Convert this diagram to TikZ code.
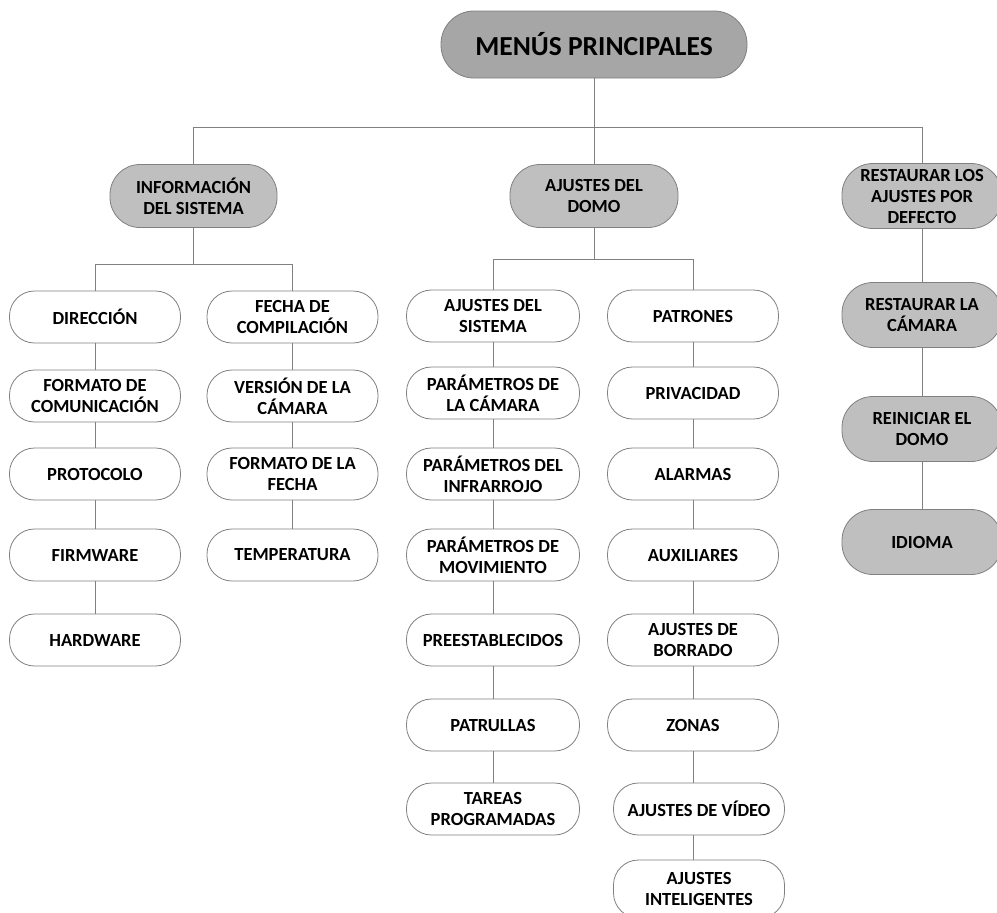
\documentclass[tikz,border=0pt]{standalone}
\usepackage{fontspec}
\setmainfont{Carlito}
\definecolor{lineg}{RGB}{128,128,128}
\definecolor{topfill}{RGB}{166,166,166}
\definecolor{midfill}{RGB}{191,191,191}
\tikzset{
  leaf/.style={draw=lineg, line width=0.8pt, fill=white, minimum width=171pt, minimum height=52pt,
    rounded corners=25pt, align=center, inner sep=0pt, text=black,
    font=\bfseries\fontsize{18.5}{21}\selectfont},
  midbox/.style={leaf, fill=midfill, minimum width=167pt, minimum height=63pt, rounded corners=30pt},
  restbox/.style={leaf, fill=midfill, minimum width=160pt, minimum height=65pt, rounded corners=31pt},
  topbox/.style={leaf, fill=topfill, minimum width=306pt, minimum height=67pt, rounded corners=33pt,
    font=\bfseries\fontsize{27.5}{32}\selectfont},
  conn/.style={draw=lineg, line width=0.8pt}
}
\begin{document}
\begin{tikzpicture}[x=1pt,y=-1pt]
\clip (0,0) rectangle (997,913);
\fill[white] (0,0) rectangle (997,913);
% top
\node[topbox] (top) at (594,44.5) {MENÚS PRINCIPALES};
% level 2
\node[midbox] (info) at (193.5,196) {INFORMACIÓN\\DEL SISTEMA};
\node[midbox, minimum width=168pt] (domo) at (594,196) {AJUSTES DEL\\DOMO};
\node[restbox] (rest) at (922,196) {RESTAURAR LOS\\AJUSTES POR\\DEFECTO};
% column 1
\node[leaf] (c1a) at (95,317) {DIRECCIÓN};
\node[leaf] (c1b) at (95,396) {FORMATO DE\\COMUNICACIÓN};
\node[leaf] (c1c) at (95,474) {PROTOCOLO};
\node[leaf] (c1d) at (95,555) {FIRMWARE};
\node[leaf] (c1e) at (95,640) {HARDWARE};
% column 2
\node[leaf] (c2a) at (292.5,317) {FECHA DE\\COMPILACIÓN};
\node[leaf] (c2b) at (292.5,396) {VERSIÓN DE LA\\CÁMARA};
\node[leaf] (c2c) at (292.5,474) {FORMATO DE LA\\FECHA};
\node[leaf] (c2d) at (292.5,555) {TEMPERATURA};
% column 3
\node[leaf, minimum width=173pt] (c3a) at (493,316) {AJUSTES DEL\\SISTEMA};
\node[leaf, minimum width=173pt] (c3b) at (493,393) {PARÁMETROS DE\\LA CÁMARA};
\node[leaf, minimum width=173pt] (c3c) at (493,474) {PARÁMETROS DEL\\INFRARROJO};
\node[leaf, minimum width=173pt] (c3d) at (493,555) {PARÁMETROS DE\\MOVIMIENTO};
\node[leaf, minimum width=173pt] (c3e) at (493,640) {PREESTABLECIDOS};
\node[leaf, minimum width=173pt] (c3f) at (493,725) {PATRULLAS};
\node[leaf, minimum width=173pt] (c3g) at (493,809) {TAREAS\\PROGRAMADAS};
% column 4
\node[leaf] (c4a) at (693,316) {PATRONES};
\node[leaf] (c4b) at (693,393) {PRIVACIDAD};
\node[leaf] (c4c) at (693,474) {ALARMAS};
\node[leaf] (c4d) at (693,555) {AUXILIARES};
\node[leaf] (c4e) at (693,640) {AJUSTES DE\\BORRADO};
\node[leaf] (c4f) at (693,725) {ZONAS};
\node[leaf] (c4g) at (699,809) {AJUSTES DE VÍDEO};
\node[leaf, minimum height=58pt] (c4h) at (699,889) {AJUSTES\\INTELIGENTES};
% column 5
\node[restbox] (c5a) at (922,315) {RESTAURAR LA\\CÁMARA};
\node[restbox] (c5b) at (922,429) {REINICIAR EL\\DOMO};
\node[restbox] (c5c) at (922,542) {IDIOMA};
% buses
\coordinate (bus0) at (594,127);
\coordinate (bus1) at (193.5,264);
\coordinate (bus2) at (594,259);
% connectors
\draw[conn] (top) -- (bus0);
\draw[conn] (info.north) -- (info.north |- bus0) -- (rest.north |- bus0) -- (rest.north);
\draw[conn] (bus0) -- (domo.north);
\draw[conn] (info.south) -- (bus1);
\draw[conn] (c1a.north) -- (c1a.north |- bus1) -- (c2a.north |- bus1) -- (c2a.north);
\draw[conn] (domo.south) -- (bus2);
\draw[conn] (c3a.north) -- (c3a.north |- bus2) -- (c4a.north |- bus2) -- (c4a.north);
\draw[conn] (c1a) -- (c1b); \draw[conn] (c1b) -- (c1c); \draw[conn] (c1c) -- (c1d); \draw[conn] (c1d) -- (c1e);
\draw[conn] (c2a) -- (c2b); \draw[conn] (c2b) -- (c2c); \draw[conn] (c2c) -- (c2d);
\draw[conn] (c3a) -- (c3b); \draw[conn] (c3b) -- (c3c); \draw[conn] (c3c) -- (c3d); \draw[conn] (c3d) -- (c3e);
\draw[conn] (c3e) -- (c3f); \draw[conn] (c3f) -- (c3g);
\draw[conn] (c4a) -- (c4b); \draw[conn] (c4b) -- (c4c); \draw[conn] (c4c) -- (c4d); \draw[conn] (c4d) -- (c4e);
\draw[conn] (c4e) -- (c4f); \draw[conn] (c4f.south) -- (c4f.south |- c4g.north);
\draw[conn] (c4f.south |- c4g.south) -- (c4f.south |- c4h.north);
\draw[conn] (rest) -- (c5a); \draw[conn] (c5a) -- (c5b); \draw[conn] (c5b) -- (c5c);
\end{tikzpicture}
\end{document}
